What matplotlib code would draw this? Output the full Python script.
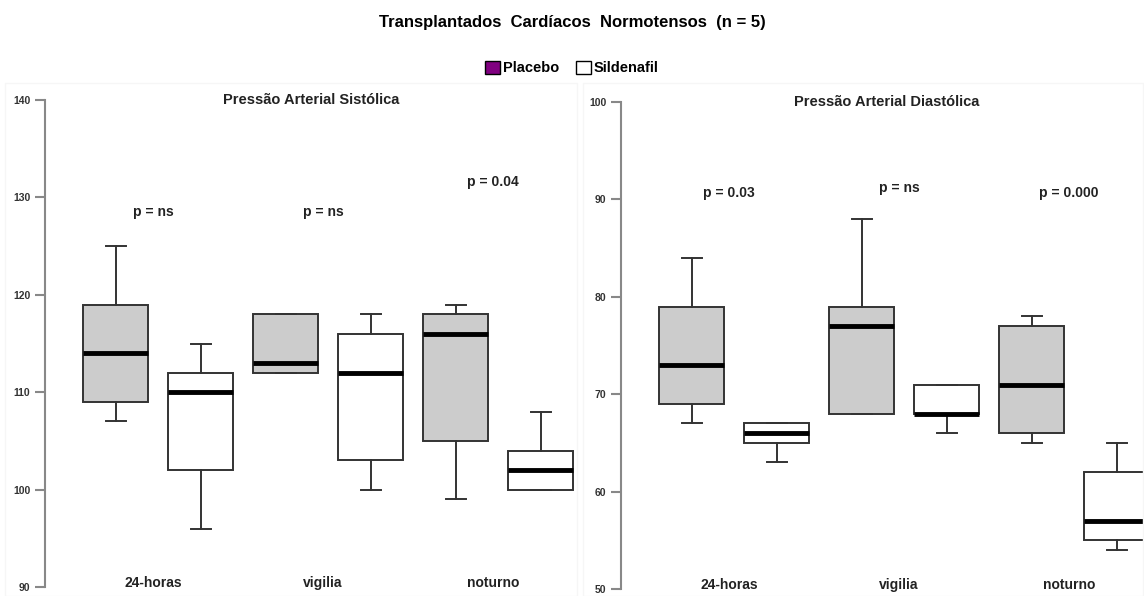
import matplotlib
matplotlib.use("Agg")
import matplotlib.pyplot as plt
from matplotlib.patches import Patch, Rectangle

plt.rcParams['font.family'] = ['Liberation Sans', 'DejaVu Sans']
plt.rcParams['font.weight'] = 'bold'

periods = ['24-horas', 'vigilia', 'noturno']
groups = ['Placebo', 'Sildenafil']

# whislo, q1, med, q3, whishi  (placebo, sildenafil per period)
sys_stats = [
    [107, 109, 114, 119, 125], [96, 102, 110, 112, 115],
    [112, 112, 113, 118, 118], [100, 103, 112, 116, 118],
    [99, 105, 116, 118, 119], [100, 100, 102, 104, 108],
]
dia_stats = [
    [67, 69, 73, 79, 84], [63, 65, 66, 67, 67],
    [68, 68, 77, 79, 88], [66, 68, 68, 71, 71],
    [65, 66, 71, 77, 78], [54, 55, 57, 62, 65],
]
sys_p = ['p = ns', 'p = ns', 'p = 0.04']
sys_p_y = [128.5, 128.5, 131.6]
dia_p = ['p = 0.03', 'p = ns', 'p = 0.000']
dia_p_y = [90.7, 91.2, 90.7]

fills = ['#cccccc', 'white']
edge = '#333333'

fig = plt.figure(figsize=(11.44, 5.96), dpi=100)

# very faint panel frames
fig.patches.append(Rectangle((5/1144, 0), 572/1144, 1 - 83/596, transform=fig.transFigure,
                             fill=False, ec='#f6f6f6', lw=1))
fig.patches.append(Rectangle((583/1144, 0), 560/1144, 1 - 83/596, transform=fig.transFigure,
                             fill=False, ec='#f6f6f6', lw=1))

ax1 = fig.add_axes([45/1144, 0.0151, 530/1144, 0.817])
ax2 = fig.add_axes([621/1144, 0.0117, 523/1144, 0.817])


def draw(ax, stats, ylim, title, pvals, pys):
    bs = []
    for s in stats:
        bs.append(dict(whislo=s[0], q1=s[1], med=s[2], q3=s[3], whishi=s[4], fliers=[]))
    pos = list(range(1, len(bs) + 1))
    res = ax.bxp(bs, positions=pos, widths=0.765, capwidths=0.235, patch_artist=True,
                 showfliers=False,
                 boxprops=dict(edgecolor=edge, linewidth=1.4),
                 whiskerprops=dict(color=edge, linewidth=1.4),
                 capprops=dict(color=edge, linewidth=1.4),
                 medianprops=dict(color='black', linewidth=3.5, solid_capstyle='butt'))
    for i, b in enumerate(res['boxes']):
        b.set_facecolor(fills[i % 2])
    ax.set_ylim(*ylim)
    ax.set_xlim(0.17, 0.17 + ax.get_position().width * 1144 / 85)
    for sp in ['top', 'right', 'bottom']:
        ax.spines[sp].set_visible(False)
    ax.spines['left'].set_color('#888888')
    ax.spines['left'].set_linewidth(1.5)
    ax.set_xticks([])
    ax.set_yticks(range(ylim[0], ylim[1] + 1, 10))
    ax.tick_params(axis='y', length=7, width=1.5, color='#888888', labelsize=7.5, labelcolor='#333333')
    for lab in ax.get_yticklabels():
        lab.set_fontweight('bold')
    top = ylim[1]
    ax.text(3.3, top, title, ha='center', va='center', fontsize=10.5, color='#222222')
    for k in range(3):
        cx = (pos[2 * k] + pos[2 * k + 1]) / 2 - 0.06
        ax.text(cx, pys[k], pvals[k], ha='center', va='center', fontsize=10, color='#222222')
        ax.text(cx, ylim[0] + 0.45, periods[k], ha='center', va='center', fontsize=10, color='#222222')


draw(ax1, sys_stats, (90, 140), 'Pressão Arterial Sistólica', sys_p, sys_p_y)
draw(ax2, dia_stats, (50, 100), 'Pressão Arterial Diastólica', dia_p, dia_p_y)

fig.text(0.5, 1 - 22/596, 'Transplantados  Cardíacos  Normotensos  (n = 5)', ha='center', va='center',
         fontsize=12, fontweight='heavy', color='black')
handles = [Patch(facecolor='#800080', edgecolor='black'), Patch(facecolor='white', edgecolor='black')]
fig.legend(handles, groups, loc='center', bbox_to_anchor=(0.5, 1 - 68/596), ncol=2, frameon=False,
           fontsize=10.5, handlelength=1.0, handleheight=1.0, handletextpad=0.2, columnspacing=1.2)

fig.savefig('out.png', dpi=100)
